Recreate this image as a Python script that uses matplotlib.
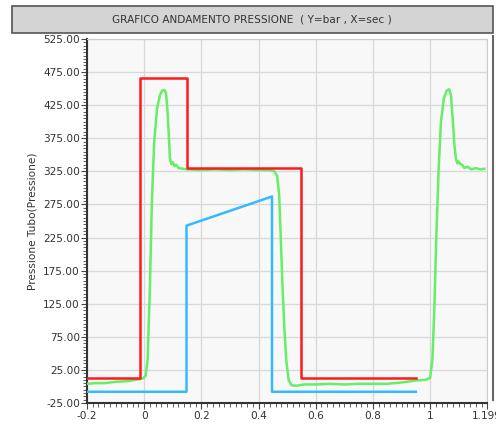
import matplotlib
matplotlib.use("Agg")
import matplotlib.pyplot as plt
from matplotlib.patches import Rectangle
from matplotlib.ticker import FixedLocator, MultipleLocator

# Data (X = sec, Y = bar)
red_t = [-0.2, -0.015, -0.015, 0.15, 0.15, 0.548, 0.548, 0.95]
red_p = [13, 13, 466, 466, 330, 330, 13, 13]

blue_t = [-0.2, 0.148, 0.148, 0.447, 0.447, 0.95]
blue_p = [-8, -8, 243, 287, -8, -8]

green_t = [-0.2, -0.17, -0.14, -0.1, -0.06, -0.03, -0.005, 0.005, 0.012,
           0.02, 0.027, 0.035, 0.045, 0.055, 0.063, 0.07, 0.076, 0.081,
           0.086, 0.09, 0.095, 0.1, 0.106, 0.112, 0.12, 0.15, 0.2, 0.25,
           0.3, 0.35, 0.4, 0.44, 0.455, 0.465, 0.472, 0.478, 0.484, 0.49,
           0.497, 0.505, 0.515, 0.53, 0.56, 0.6, 0.65, 0.7, 0.75, 0.8,
           0.85, 0.9, 0.95, 0.985, 1.0, 1.008, 1.015, 1.022, 1.03, 1.038,
           1.048, 1.058, 1.067, 1.073, 1.079, 1.085, 1.09, 1.095, 1.1,
           1.106, 1.112, 1.12, 1.13, 1.145, 1.16, 1.175, 1.19]
green_p = [4, 5, 5, 7, 8, 10, 12, 16, 40,
           150, 280, 370, 420, 440, 447, 448, 444, 420,
           380, 345, 336, 339, 333, 335, 330, 328, 327, 328,
           327, 328, 327, 327, 325, 318, 290, 220, 150, 90,
           40, 10, 2, 1, 3, 3, 4, 3, 4, 4,
           4, 6, 9, 10, 13, 40, 120, 230, 330, 400,
           435, 447, 449, 440, 405, 365, 345, 337, 340,
           336, 335, 330, 332, 328, 330, 328, 329]

x_ticks = [-0.2, 0, 0.2, 0.4, 0.6, 0.8, 1, 1.199]
x_labels = ["-0.2", "0", "0.2", "0.4", "0.6", "0.8", "1", "1.199"]
y_ticks = [-25, 25, 75, 125, 175, 225, 275, 325, 375, 425, 475, 525]

title = "GRAFICO ANDAMENTO PRESSIONE  ( Y=bar , X=sec )"
ylabel = "Pressione Tubo(Pressione)"

plt.rcParams["font.family"] = ["DejaVu Sans"]
txt_col = "#333333"

fig = plt.figure(figsize=(4.96, 4.25), dpi=100)
fig.patch.set_facecolor("white")

# title bar
fig.patches.append(Rectangle((12 / 496, 1 - 33 / 425), 481 / 496, 27 / 425,
                             transform=fig.transFigure, facecolor="#d4d4d4",
                             edgecolor="#555555", linewidth=1.2))
fig.text(252 / 496, 1 - 19 / 425, title, ha="center", va="center",
         fontsize=7.6, color=txt_col)

ax = fig.add_axes([87 / 496, 1 - 403 / 425, 400 / 496, 364 / 425])
ax.set_facecolor("#f8f8f8")

ax.plot(green_t, green_p, color="#66ee66", lw=1.8, zorder=3)
ax.plot(blue_t, blue_p, color="#33bbff", lw=1.8, zorder=4)
ax.plot(red_t, red_p, color="#ff1a1a", lw=1.8, zorder=5)

ax.set_xlim(-0.2, 1.199)
ax.set_ylim(-25, 525)
ax.xaxis.set_major_locator(FixedLocator(x_ticks))
ax.set_xticklabels(x_labels)
ax.xaxis.set_minor_locator(MultipleLocator(0.02))
ax.yaxis.set_major_locator(FixedLocator(y_ticks))
ax.set_yticklabels([f"{v:.2f}" for v in y_ticks])
ax.yaxis.set_minor_locator(MultipleLocator(5))

ax.grid(True, which="major", color="#d8d8d8", lw=0.9)
ax.tick_params(which="both", direction="out", colors="#444444", labelcolor=txt_col,
               labelsize=7.6, pad=1)
ax.tick_params(which="major", length=4, width=0.8)
ax.tick_params(which="minor", length=3, width=0.6)
ax.tick_params(axis="x", pad=2)

for side in ["left", "bottom"]:
    ax.spines[side].set_color("#333333")
    ax.spines[side].set_linewidth(1.5)
for side in ["top", "right"]:
    ax.spines[side].set_color("#cccccc")
    ax.spines[side].set_linewidth(0.8)

ax.set_ylabel(ylabel, fontsize=7.6, color=txt_col, labelpad=4)

# panel right border
fig.add_artist(plt.Line2D([493 / 496, 493 / 496], [1 - 36 / 425, 1 - 400 / 425],
                          transform=fig.transFigure, color="#666666", lw=1.5))

fig.savefig("out.png", dpi=100)
